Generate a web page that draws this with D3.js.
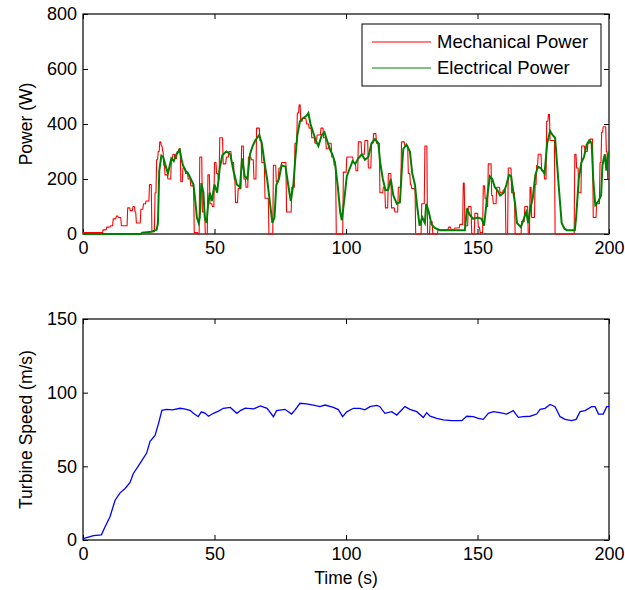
<!DOCTYPE html>
<html>
<head>
<meta charset="utf-8">
<script src="https://cdn.jsdelivr.net/npm/d3@7"></script>
<style>
  body { margin: 0; background: #fff; }
  svg { display: block; }
  text { font-family: Arial, "Liberation Sans", sans-serif; fill: #000; }
</style>
</head>
<body>
<svg id="chart" width="625" height="590"></svg>
<script>
// ---------- DATA ----------
const mechTime = [0,7.5,7.6,9,10.5,11.5,12.7,13.5,14.6,16.5,17,18,19,19.8,20.3,21.5,22,23,24,25.3,26.2,27.4,28,28.6,29.2,29.8,30.3,30.7,31.2,32.3,33.6,34.2,35,35.8,36.5,37.2,38,39,40,41,42.3,43.8,44.4,45.4,46.5,47.5,48.3,49.2,50,50.8,51.5,52,53.3,54.5,55.5,56.5,57.5,58,59,60.3,61.2,62,62.9,64,65,66,67.3,68,69.2,70.7,72.4,73.5,74.5,75.5,77.4,79.4,80.6,81.5,82.2,82.8,83.5,85,86,87,88.2,89,90.5,91.5,92.5,93.5,94.6,95.5,96.3,99,100.3,102.8,103.8,104.7,106,107.2,108.5,109.7,110.5,111.6,112.9,114.2,115,116.1,117.3,118.6,119.9,121.1,122.4,123.7,124.5,125,126.5,128.8,130,131,132,133,135,139,140,141.4,143.3,144.6,145.2,146.5,147.8,149,150.3,151,152.2,152.9,153.5,154.1,155.4,156,157.3,158.6,159.8,160.8,161.7,163,164.3,166.8,168,169.3,170,170.6,171.9,172.5,173.1,174.4,175.5,176.3,177,177.6,179.5,187,187.7,188.5,189.6,190.9,192,192.8,194,195.3,196.6,197.2,197.8,199,199.5,200];
const mechPower = [5,5,15,25,30,55,65,60,30,30,95,85,100,80,40,40,90,110,120,180,8,150,270,300,335,320,300,250,215,200,270,290,275,300,310,190,240,220,200,175,5,0,280,80,0,215,110,100,260,220,200,350,255,280,300,260,200,115,165,320,200,170,280,270,200,385,340,260,130,0,250,190,240,260,80,170,330,440,470,410,420,400,385,350,330,360,385,350,310,330,280,250,0,225,280,260,230,335,290,340,240,330,365,330,150,170,95,220,95,80,170,335,320,220,180,165,0,110,320,0,45,0,15,25,15,22,35,185,30,100,0,75,25,5,175,130,100,255,140,110,170,150,160,0,240,150,0,45,100,0,170,60,180,250,290,230,200,410,435,340,0,290,240,150,320,300,330,345,60,110,260,370,390,300,200,200];

const elecTime = [0,22,22.5,26,28,28.5,29,29.8,30.5,31.2,32.3,33,33.6,34.5,35.5,36.8,37.5,38,39,40,41,42,42.7,43.3,44,44.4,45,45.8,46.3,47,47.5,48.2,49,50,51,52,53,54.5,56,57.2,58.5,59.7,60.5,61.5,62.5,63.5,64.5,65.5,67,68,69,70,71,72,72.8,73.5,74.5,75.5,77,78,79,80,80.6,81.5,82.5,83.5,85,85.7,86.5,87.5,88.5,89.5,90.8,91.8,92.8,93.8,94.8,95.8,96.8,97.8,98.4,99.3,100.3,101.5,102.5,103.5,104.7,106,107.2,108.5,109.7,111,112.3,113,114,115,116,117,118,119.3,120.5,121.2,121.8,123,124.3,125.2,126.2,127,128,129,130,130.5,131.5,132.5,133.8,135.7,145.2,146,147,148.4,150,151.6,152.5,153.5,154.7,155.6,156.6,157.5,158.6,160,161,162,162.8,163.5,164.3,165,166.5,167.4,168.5,169.3,170,171,172,173,174,175.5,176.5,177.6,178.5,179.5,180.3,181,182,183,184,187,187.5,188.5,189.5,190.5,191.5,192.5,193.4,194,194.8,196,197,197.5,198.4,199,199.5,200];
const elecPower = [0,0,5,8,15,40,230,285,280,255,220,250,275,265,290,305,270,250,230,220,200,180,120,60,40,60,185,150,60,40,100,150,120,180,150,240,287,300,290,230,180,170,275,210,200,290,320,340,360,330,260,200,120,40,60,178,200,250,245,180,120,180,260,360,410,420,430,440,400,370,340,320,360,370,340,310,290,260,180,80,50,120,210,240,265,255,275,290,270,280,330,345,330,260,200,160,160,200,140,110,115,230,310,325,300,220,180,105,30,60,40,110,80,35,22,14,14,93,70,55,60,55,30,120,210,200,170,160,140,150,180,215,210,160,110,40,25,50,80,40,90,130,215,245,240,220,330,375,360,350,250,160,40,20,14,14,60,200,260,280,325,340,330,200,105,120,140,250,290,230,280,300];

const speedTime = [0,2,4,7,8.4,10.3,12.2,14.1,16,17.9,19.1,21.7,24.2,25.5,27.4,28.7,30,31.8,34,36.9,38.5,40.7,42,43.8,45,46.5,47.7,49.6,51.5,53.4,56,58.5,60,61.7,64.9,67.4,70,72.4,73.6,76.8,79.3,80.5,82.5,85,87.6,90.1,92,95.2,97.1,98.7,100.3,102.8,105.3,107.2,109.1,111.7,112.9,114.8,117.4,119.3,122.4,124.3,126.9,129.4,130.7,132,134.5,137,140.2,144,145.9,148.4,150.3,152.2,154.1,156,158.5,161.1,163.6,165.5,167.4,170,172.5,173.8,175.7,177.6,179.5,181.4,183.3,185.8,187.5,189,190.9,193.4,194.7,196,197.8,199.1,200];
const speed = [1,2,3,3.5,9,16,27,32,35,39,45,52,59,67,71,79,88,88.7,88.3,89.4,89,88,86,83.7,87,86,84,86,87.5,89.4,90,86,88,89.5,89,91,89.4,83.7,87.8,88.7,85.5,88,92.8,92.4,91.6,90.5,91.6,90,88.5,83.7,87,89.4,89.4,88.3,90.5,91.4,90.5,86,87.1,84.8,90.5,88.7,87.1,83.2,86.4,84,82.5,81.5,81,81,84,83.7,82.5,81.9,86,87.1,86.4,85.5,87.8,83.2,83.7,84,85.5,88.7,89.4,92,90.5,83.7,81.9,81,81.9,87.1,87.8,90.5,90.5,85.5,85.5,90.5,90.5];

const xTicks = [0, 50, 100, 150, 200];
const powerTicks = [0, 200, 400, 600, 800];
const speedTicks = [0, 50, 100, 150];
const legendLabels = ["Mechanical Power", "Electrical Power"];

// ---------- DRAW ----------
const svg = d3.select("#chart");
const L = 83, R = 609;
const FS = 18;      // tick labels
const LFS = 17.5;   // axis titles
const LEGFS = 18.5; // legend
const FONT = "Arial, 'Liberation Sans', sans-serif";

function panel(top, bottom, yDomain, yTicks, yLabel) {
  const x = d3.scaleLinear().domain([0, 200]).range([L, R]);
  const y = d3.scaleLinear().domain(yDomain).range([bottom, top]);
  const g = svg.append("g");
  const tl = 5;
  g.append("g").attr("transform", `translate(0,${bottom})`)
    .call(d3.axisBottom(x).tickValues(xTicks).tickSizeInner(-tl).tickSizeOuter(0).tickPadding(7))
    .call(s => { s.select(".domain").remove(); s.selectAll("text").attr("font-size", FS).attr("font-family", FONT); });
  g.append("g").attr("transform", `translate(0,${top})`)
    .call(d3.axisTop(x).tickValues(xTicks).tickSizeInner(-tl).tickSizeOuter(0).tickFormat(""))
    .call(s => s.select(".domain").remove());
  g.append("g").attr("transform", `translate(${L},0)`)
    .call(d3.axisLeft(y).tickValues(yTicks).tickSizeInner(-tl).tickSizeOuter(0).tickPadding(6))
    .call(s => { s.select(".domain").remove(); s.selectAll("text").attr("font-size", FS).attr("font-family", FONT); });
  g.append("g").attr("transform", `translate(${R},0)`)
    .call(d3.axisRight(y).tickValues(yTicks).tickSizeInner(-tl).tickSizeOuter(0).tickFormat(""))
    .call(s => s.select(".domain").remove());
  g.selectAll(".tick line").attr("stroke", "#000");
  g.append("rect").attr("x", L).attr("y", top).attr("width", R - L).attr("height", bottom - top)
    .attr("fill", "none").attr("stroke", "#000").attr("stroke-width", 1.2);
  g.append("text").attr("transform", `translate(26,${(top + bottom) / 2}) rotate(-90)`)
    .attr("text-anchor", "middle").attr("font-size", LFS).attr("dy", "0.35em").text(yLabel);
  return { x, y, g };
}

const p1 = panel(14, 234, [0, 800], powerTicks, "Power (W)");
const p2 = panel(319, 540, [0, 150], speedTicks, "Turbine Speed (m/s)");

svg.append("clipPath").attr("id", "c1").append("rect")
  .attr("x", L).attr("y", 13).attr("width", R - L).attr("height", 222);

// step-like path with a short ramp between levels
function rampSteps(ts, vs, ramp) {
  const pts = [];
  for (let i = 0; i < ts.length; i++) {
    pts.push([ts[i], vs[i]]);
    if (i < ts.length - 1) {
      const tEnd = Math.max(ts[i], ts[i + 1] - ramp);
      pts.push([tEnd, vs[i]]);
    }
  }
  return pts;
}

const mechLine = d3.line().x(d => p1.x(d[0])).y(d => p1.y(d[1]));
const elecLine = d3.line().x(d => p1.x(d[0])).y(d => p1.y(d[1]));
svg.append("path").datum(rampSteps(mechTime, mechPower, 0.25))
  .attr("d", mechLine).attr("fill", "none").attr("stroke", "#ff0000").attr("stroke-width", 1.1)
  .attr("stroke-linejoin", "round").attr("clip-path", "url(#c1)");
svg.append("path").datum(elecTime.map((t, i) => [t, elecPower[i]]))
  .attr("d", elecLine).attr("fill", "none").attr("stroke", "#008000").attr("stroke-width", 2)
  .attr("clip-path", "url(#c1)");

const speedLine = d3.line().x(d => p2.x(d[0])).y(d => p2.y(d[1]));
svg.append("path").datum(speedTime.map((t, i) => [t, speed[i]]))
  .attr("d", speedLine).attr("fill", "none").attr("stroke", "#0000ff").attr("stroke-width", 1.3);

// Legend
const lg = svg.append("g");
lg.append("rect").attr("x", 362).attr("y", 24).attr("width", 239).attr("height", 62)
  .attr("fill", "#fff").attr("stroke", "#000").attr("stroke-width", 1);
const legColors = ["#ff0000", "#008000"];
legendLabels.forEach((lab, i) => {
  const yy = 42 + i * 26;
  lg.append("line").attr("x1", 372).attr("x2", 431).attr("y1", yy).attr("y2", yy)
    .attr("stroke", legColors[i]).attr("stroke-width", 1);
  lg.append("text").attr("x", 437).attr("y", yy).attr("dy", "0.35em")
    .attr("font-size", LEGFS).text(lab);
});

// X label
svg.append("text").attr("x", (L + R) / 2).attr("y", 578).attr("text-anchor", "middle")
  .attr("dy", "0.35em").attr("font-size", LFS).text("Time (s)");
</script>
</body>
</html>
